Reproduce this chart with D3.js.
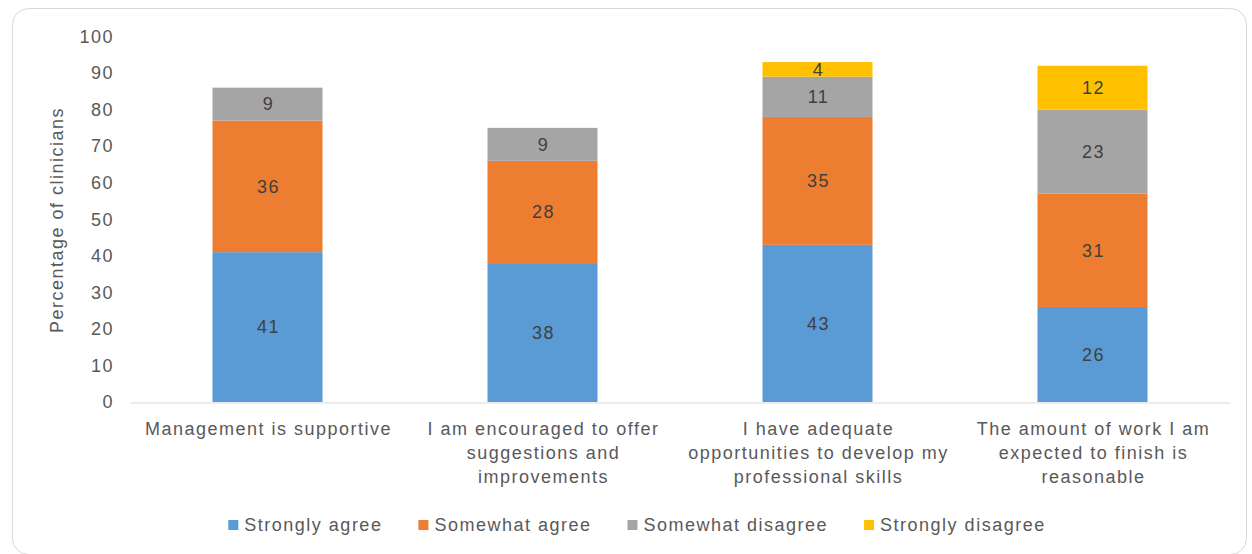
<!DOCTYPE html>
<html>
<head>
<meta charset="utf-8">
<script src="https://cdn.jsdelivr.net/npm/d3@7"></script>
<style>
  html, body { margin: 0; padding: 0; background: #ffffff; }
  svg { display: block; }
  text { font-family: "Liberation Sans", Arial, sans-serif; }
</style>
</head>
<body>
<svg id="chart" width="1252" height="554"></svg>
<script>
// Survey statements (category axis), each split into its wrapped lines
const categories = [
  "Management is supportive",
  "I am encouraged to offer suggestions and improvements",
  "I have adequate opportunities to develop my professional skills",
  "The amount of work I am expected to finish is reasonable"
];
const categoryLines = [
  ["Management is supportive"],
  ["I am encouraged to offer", "suggestions and", "improvements"],
  ["I have adequate", "opportunities to develop my", "professional skills"],
  ["The amount of work I am", "expected to finish is", "reasonable"]
];

// Response series (percentage of clinicians)
const seriesNames = ["Strongly agree", "Somewhat agree", "Somewhat disagree", "Strongly disagree"];
const stronglyAgree    = [41, 38, 43, 26];
const somewhatAgree    = [36, 28, 35, 31];
const somewhatDisagree = [9, 9, 11, 23];
const stronglyDisagree = [0, 0, 4, 12];
const seriesColors = ["#5B9BD5", "#ED7D31", "#A5A5A5", "#FFC000"];

const yTicks = [0, 10, 20, 30, 40, 50, 60, 70, 80, 90, 100];
const yTitle = "Percentage of clinicians";

// Rows for the stack layout
const seriesValues = [stronglyAgree, somewhatAgree, somewhatDisagree, stronglyDisagree];
const rows = categories.map((c, i) => {
  const r = { category: c };
  seriesNames.forEach((s, k) => { r[s] = seriesValues[k][i]; });
  return r;
});

const svg = d3.select("#chart");
const FONT = 18, LS = "1.5px";
const textColor = "#595959";

// Outer chart frame
svg.append("rect")
  .attr("x", 12.5).attr("y", 8.5)
  .attr("width", 1234).attr("height", 546)
  .attr("rx", 16).attr("ry", 16)
  .attr("fill", "#ffffff")
  .attr("stroke", "#d9d9d9").attr("stroke-width", 1);

const plot = { left: 130, right: 1230, top: 36.5, bottom: 402 };

const x = d3.scaleBand()
  .domain(categories)
  .range([plot.left, plot.right])
  .paddingInner(0.6)
  .paddingOuter(0.3);

const y = d3.scaleLinear()
  .domain([0, 100])
  .range([plot.bottom, plot.top]);

const color = d3.scaleOrdinal().domain(seriesNames).range(seriesColors);

// Stacked bars
const stacked = d3.stack().keys(seriesNames)(rows);

const layers = svg.append("g").selectAll("g")
  .data(stacked)
  .join("g")
  .attr("fill", d => color(d.key));

layers.selectAll("rect")
  .data(d => d.filter(p => p[1] - p[0] > 0))
  .join("rect")
  .attr("x", d => x(d.data.category))
  .attr("width", x.bandwidth())
  .attr("y", d => y(d[1]))
  .attr("height", d => y(d[0]) - y(d[1]));

// Value labels centred in each segment
layers.selectAll("text")
  .data(d => d.filter(p => p[1] - p[0] > 0))
  .join("text")
  .attr("x", d => x(d.data.category) + x.bandwidth() / 2 + 1)
  .attr("y", d => (y(d[0]) + y(d[1])) / 2)
  .attr("dy", "0.35em")
  .attr("text-anchor", "middle")
  .attr("font-size", FONT)
  .attr("letter-spacing", LS)
  .attr("fill", "#404040")
  .text(d => d[1] - d[0]);

// Y axis (labels only, no line)
const yAxis = d3.axisLeft(y).tickValues(yTicks).tickSize(0).tickPadding(0);
const yg = svg.append("g")
  .attr("transform", `translate(${plot.left - 16},0)`)
  .call(yAxis);
yg.select(".domain").remove();
yg.selectAll("text")
  .attr("font-family", "Liberation Sans, Arial, sans-serif")
  .attr("font-size", FONT)
  .attr("letter-spacing", LS)
  .attr("fill", textColor);

// X axis baseline
const xAxis = d3.axisBottom(x).tickSize(0).tickFormat("");
const xg = svg.append("g")
  .attr("transform", `translate(0,${plot.bottom + 0.5})`)
  .call(xAxis);
xg.select(".domain").attr("stroke", "#d9d9d9").attr("stroke-width", 1);

// Wrapped category labels
svg.append("g").selectAll("text")
  .data(categories)
  .join("text")
  .attr("text-anchor", "middle")
  .attr("font-size", FONT)
  .attr("letter-spacing", LS)
  .attr("fill", textColor)
  .each(function (c, i) {
    const t = d3.select(this);
    categoryLines[i].forEach((line, k) => {
      t.append("tspan")
        .attr("x", x(c) + x.bandwidth() / 2 + 1)
        .attr("y", 434.5 + k * 24)
        .text(line);
    });
  });

// Y axis title
svg.append("text")
  .attr("transform", `translate(63,220) rotate(-90)`)
  .attr("text-anchor", "middle")
  .attr("font-size", FONT)
  .attr("letter-spacing", LS)
  .attr("fill", textColor)
  .text(yTitle);

// Legend
const legend = svg.append("g");
let cursor = 0;
seriesNames.forEach((name, i) => {
  const item = legend.append("g").attr("transform", `translate(${cursor},0)`);
  item.append("rect")
    .attr("x", 0).attr("y", -5)
    .attr("width", 10).attr("height", 10)
    .attr("fill", color(name));
  const t = item.append("text")
    .attr("x", 16).attr("y", 0).attr("dy", "0.35em")
    .attr("font-size", FONT)
    .attr("letter-spacing", LS)
    .attr("fill", textColor)
    .text(name);
  const w = t.node().getComputedTextLength();
  cursor += 16 + w + 36;
});
const legendWidth = cursor - 36;
legend.attr("transform", `translate(${637 - legendWidth / 2},525)`);
</script>
</body>
</html>
